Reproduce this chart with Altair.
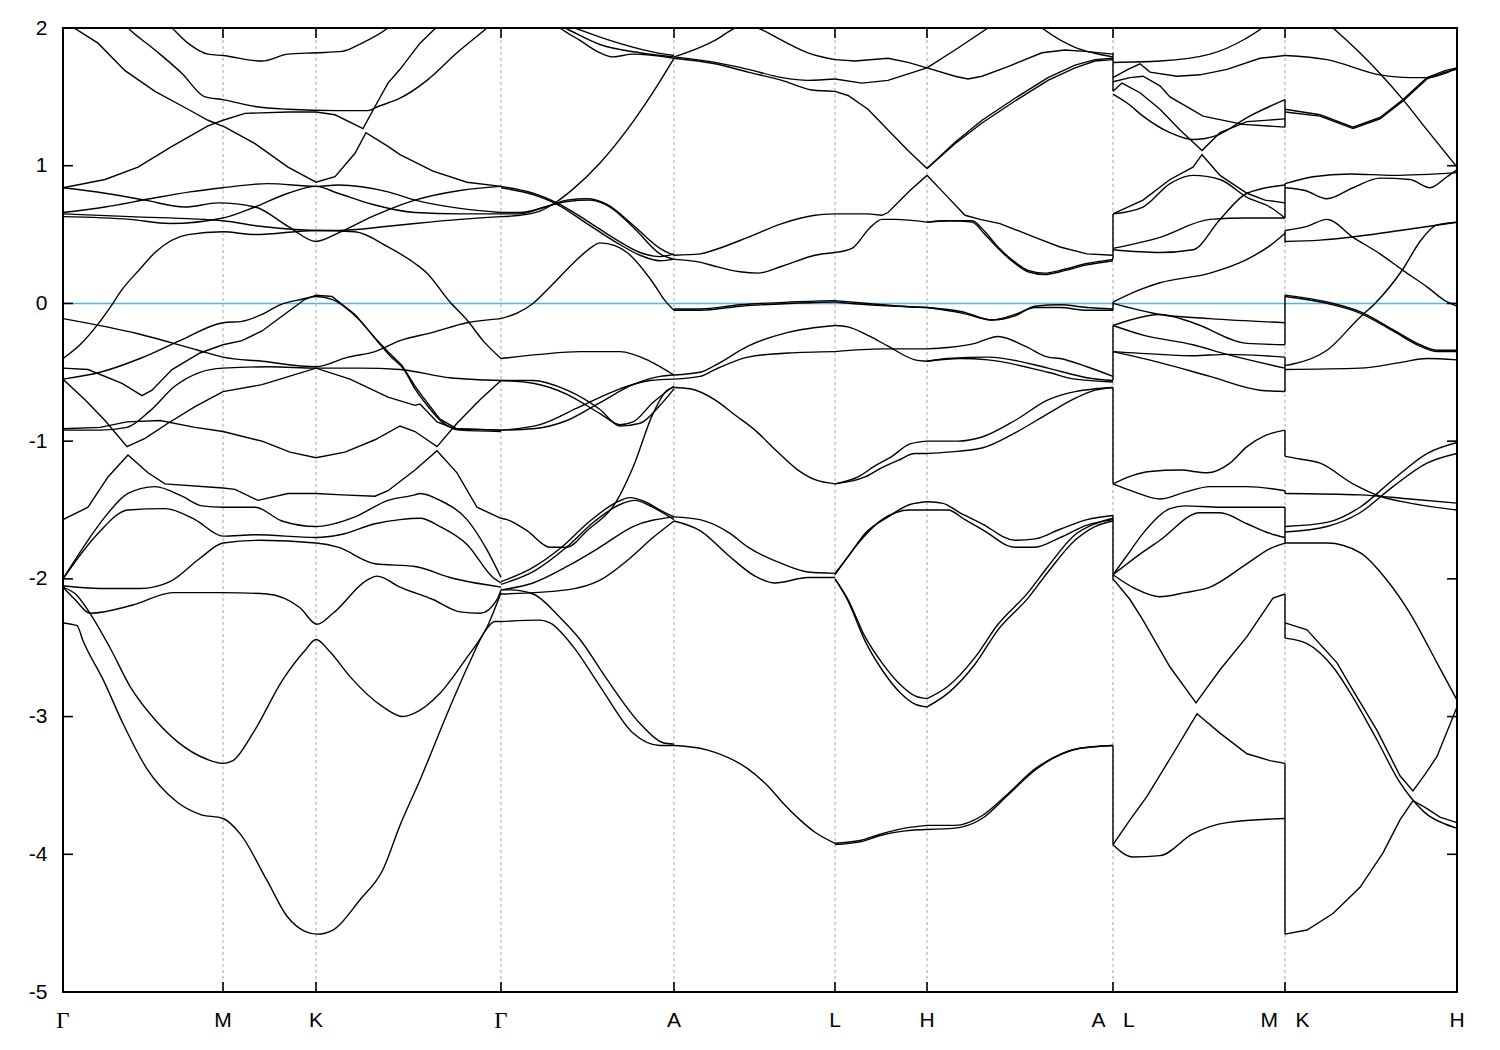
import altair as alt
import pandas as pd

# High-symmetry points along the k-path (path length, arbitrary units)
kpoint_pos = [0, 160, 253, 438, 611, 772, 864, 1050, 1222, 1394]
kpoint_lab = ["Γ", "M", "K", "Γ", "A", "L", "H", "A\u00a0\u00a0\u00a0L", "M\u00a0\u00a0\u00a0K", "H"]
y_ticks = [-5, -4, -3, -2, -1, 0, 1, 2]

# ---- Bands, segment Γ-M-K-Γ : (k, E) ----
seg_gmkg = {
    "a": [(0,2.08),(9,2.01),(35,1.89),(62,1.69),(92,1.54),(125,1.41),(145,1.33),(162,1.28),(192,1.16),(225,0.99),(253,0.88),(272,0.92),(292,1.09),(303,1.24),(325,1.14),(337,1.08),(370,0.96),(404,0.88),(438,0.85)],
    "b": [(0,0.84),(42,0.90),(75,0.99),(109,1.14),(145,1.29),(160,1.33),(182,1.38),(225,1.39),(253,1.39),(272,1.37),(300,1.27),(312,1.43),(325,1.60),(337,1.70),(357,1.89),(377,2.03),(382,2.08)],
    "c": [(57,2.06),(65,2.0),(92,1.84),(119,1.67),(142,1.50),(160,1.48),(192,1.43),(225,1.41),(275,1.40),(305,1.40),(315,1.43),(337,1.49),(364,1.62),(394,1.82),(424,2.0),(432,2.05)],
    "d": [(97,2.08),(109,2.0),(125,1.89),(145,1.81),(160,1.80),(199,1.76),(225,1.81),(253,1.82),(279,1.83),(299,1.89),(325,2.0),(335,2.06)],
    "u1": [(0,0.84),(42,0.80),(82,0.75),(122,0.70),(155,0.73),(192,0.70),(225,0.56),(253,0.45),(275,0.51),(309,0.63),(325,0.68),(352,0.75),(397,0.82),(438,0.85)],
    "u2": [(0,0.66),(42,0.70),(87,0.76),(127,0.81),(160,0.84),(205,0.87),(253,0.85),(275,0.86),(325,0.81),(352,0.75),(397,0.69),(438,0.66)],
    "u3": [(0,0.63),(67,0.61),(107,0.58),(160,0.62),(192,0.70),(225,0.80),(253,0.85),(275,0.80),(309,0.72),(352,0.66),(397,0.65),(438,0.65)],
    "u4": [(0,0.65),(67,0.63),(160,0.60),(197,0.56),(253,0.53),(275,0.53),(325,0.56),(352,0.58),(397,0.61),(438,0.63)],
    "v1": [(0,-0.40),(17,-0.30),(35,-0.15),(47,-0.03),(59,0.10),(77,0.25),(92,0.37),(125,0.50),(160,0.52),(192,0.50),(253,0.53),(292,0.52),(325,0.41),(352,0.29),(364,0.22),(387,0.01),(404,-0.12),(420,-0.27),(438,-0.40)],
    "w1": [(0,-0.11),(75,-0.22),(135,-0.34),(160,-0.39),(199,-0.42),(253,-0.46),(285,-0.39),(312,-0.35),(337,-0.27),(370,-0.21),(404,-0.14),(438,-0.11)],
    "l1": [(0,-0.47),(25,-0.48),(59,-0.58),(79,-0.67),(89,-0.63),(109,-0.48),(137,-0.36),(160,-0.30),(179,-0.27),(199,-0.20),(225,-0.06),(242,0.03),(253,0.06),(269,0.05),(292,-0.08),(312,-0.25),(325,-0.35),(339,-0.45),(352,-0.60),(360,-0.68),(377,-0.84),(394,-0.91),(438,-0.92)],
    "l2": [(0,-0.55),(37,-0.50),(77,-0.40),(117,-0.27),(160,-0.14),(179,-0.13),(199,-0.08),(217,-0.01),(239,0.03),(253,0.05),(269,0.03),(295,-0.11),(315,-0.28),(327,-0.38),(341,-0.48),(352,-0.62),(362,-0.72),(379,-0.86),(397,-0.92),(438,-0.93)],
    "g91": [(0,-0.92),(37,-0.92),(64,-0.90),(87,-0.78),(112,-0.60),(137,-0.50),(160,-0.47),(207,-0.46),(253,-0.47),(297,-0.47),(337,-0.48),(387,-0.54),(438,-0.56)],
    "m92": [(0,-0.91),(37,-0.90),(64,-0.86),(97,-0.85),(132,-0.90),(160,-0.93),(199,-1.00),(227,-1.08),(253,-1.12),(282,-1.08),(312,-0.99),(337,-0.89),(352,-0.93),(374,-1.04),(394,-0.87),(417,-0.70),(438,-0.56)],
    "lv": [(0,-0.55),(22,-0.70),(42,-0.85),(64,-1.04),(82,-0.98),(105,-0.87),(132,-0.75),(160,-0.64),(199,-0.59),(253,-0.47),(287,-0.55),(325,-0.68),(352,-0.74),(357,-0.73),(374,-0.86),(392,-0.91),(438,-0.92)],
    "x": [(0,-1.57),(25,-1.48),(45,-1.26),(65,-1.10),(85,-1.23),(102,-1.31),(160,-1.34),(172,-1.35),(195,-1.43),(225,-1.38),(253,-1.38),(279,-1.39),(312,-1.40),(325,-1.36),(352,-1.21),(374,-1.07),(394,-1.23),(414,-1.48),(438,-1.56)],
    "y3": [(0,-2.0),(25,-1.72),(42,-1.55),(65,-1.38),(92,-1.33),(119,-1.40),(139,-1.47),(160,-1.48),(192,-1.48),(219,-1.58),(253,-1.62),(292,-1.55),(325,-1.43),(352,-1.39),(357,-1.38),(377,-1.43),(404,-1.57),(424,-1.79),(438,-1.99)],
    "y2": [(0,-2.0),(35,-1.67),(65,-1.50),(102,-1.49),(132,-1.57),(160,-1.69),(192,-1.68),(253,-1.70),(277,-1.68),(312,-1.60),(337,-1.57),(357,-1.56),(377,-1.62),(404,-1.75),(430,-1.99),(438,-2.03)],
    "y1": [(0,-2.05),(37,-2.07),(77,-2.07),(107,-2.02),(137,-1.85),(160,-1.74),(197,-1.72),(253,-1.74),(275,-1.77),(312,-1.89),(352,-1.91),(387,-1.99),(438,-2.06)],
    "z2": [(0,-2.06),(12,-2.15),(27,-2.25),(70,-2.19),(110,-2.10),(160,-2.10),(204,-2.11),(237,-2.21),(254,-2.33),(270,-2.25),(304,-2.01),(314,-1.98),(337,-2.06),(370,-2.15),(397,-2.24),(417,-2.25),(434,-2.15),(438,-2.08)],
    "z1": [(0,-2.06),(14,-2.12),(27,-2.25),(47,-2.50),(67,-2.78),(87,-2.98),(114,-3.18),(144,-3.31),(160,-3.34),(170,-3.32),(190,-3.12),(220,-2.73),(242,-2.52),(253,-2.44),(267,-2.53),(287,-2.71),(320,-2.93),(340,-3.0),(350,-2.98),(377,-2.83),(404,-2.57),(424,-2.35),(438,-2.10)],
    "z0": [(0,-2.32),(14,-2.34),(20,-2.45),(40,-2.73),(60,-3.05),(84,-3.38),(114,-3.62),(137,-3.71),(160,-3.74),(177,-3.85),(204,-4.19),(224,-4.45),(242,-4.56),(254,-4.58),(270,-4.55),(297,-4.33),(320,-4.11),(337,-3.79),(357,-3.46),(387,-2.93),(407,-2.60),(422,-2.38),(432,-2.31),(438,-2.31)],
}

# ---- Segment Γ-A ----
seg_ga = {
    "ga1": [(438,0.85),(470,0.80),(494,0.73),(524,0.60),(554,0.46),(577,0.37),(597,0.34),(611,0.36)],
    "ga2": [(438,0.84),(470,0.79),(494,0.72),(524,0.58),(554,0.44),(577,0.35),(597,0.31),(611,0.32)],
    "ga3": [(438,0.66),(457,0.66),(482,0.70),(504,0.75),(524,0.76),(544,0.72),(570,0.57),(597,0.40),(611,0.35)],
    "ga4": [(438,0.65),(457,0.65),(482,0.70),(504,0.74),(527,0.75),(547,0.70),(572,0.54),(597,0.36),(611,0.32)],
    "ga5": [(438,0.63),(457,0.64),(477,0.67),(494,0.74),(510,0.83),(537,1.02),(564,1.26),(587,1.50),(611,1.78)],
    "gat1": [(492,2.03),(497,2.0),(517,1.91),(537,1.82),(550,1.79),(570,1.81),(611,1.78)],
    "gat2": [(487,2.05),(502,2.0),(537,1.88),(577,1.82),(611,1.79)],
    "gat3": [(497,2.04),(512,2.0),(547,1.91),(587,1.83),(611,1.80)],
    "gam1": [(438,-0.11),(454,-0.07),(470,0.0),(487,0.12),(510,0.29),(527,0.40),(537,0.44),(552,0.42),(564,0.37),(590,0.15),(602,0.02),(611,-0.05)],
    "gam2": [(438,-0.40),(477,-0.37),(517,-0.35),(557,-0.35),(587,-0.42),(611,-0.52)],
    "gam3": [(438,-0.56),(470,-0.56),(504,-0.63),(537,-0.77),(557,-0.89),(577,-0.87),(597,-0.74),(611,-0.62)],
    "gam4": [(438,-0.56),(470,-0.58),(504,-0.66),(537,-0.80),(557,-0.88),(570,-0.86),(590,-0.72),(611,-0.60)],
    "gam5": [(438,-0.92),(470,-0.91),(504,-0.85),(537,-0.72),(570,-0.59),(597,-0.53),(611,-0.52)],
    "gam6": [(438,-0.92),(477,-0.88),(517,-0.75),(557,-0.62),(587,-0.56),(611,-0.55)],
    "gal1": [(438,-1.56),(444,-1.57),(464,-1.65),(487,-1.77),(504,-1.77),(524,-1.65),(554,-1.43),(570,-1.19),(590,-0.80),(604,-0.63),(611,-0.61)],
    "gal2": [(438,-2.02),(467,-1.93),(497,-1.78),(527,-1.58),(552,-1.45),(567,-1.41),(582,-1.44),(597,-1.50),(611,-1.55)],
    "gal3": [(438,-2.04),(472,-1.94),(502,-1.78),(532,-1.58),(557,-1.46),(572,-1.43),(587,-1.47),(611,-1.57)],
    "gal4": [(438,-2.08),(470,-2.03),(504,-1.91),(537,-1.77),(570,-1.62),(611,-1.55)],
    "gal5": [(438,-2.11),(504,-2.08),(537,-2.01),(567,-1.85),(590,-1.70),(611,-1.58)],
    "gab1": [(438,-2.31),(477,-2.30),(487,-2.32),(510,-2.49),(537,-2.78),(570,-3.12),(597,-3.21),(611,-3.21)],
    "gab2": [(438,-2.08),(447,-2.08),(470,-2.11),(497,-2.28),(517,-2.44),(544,-2.73),(577,-3.05),(600,-3.19),(611,-3.20)],
}

# ---- Segment A-L ----
seg_al = {
    "al1": [(611,1.79),(637,1.86),(652,1.91),(672,2.0),(684,2.03),(695,2.0),(719,1.91),(745,1.82),(772,1.77)],
    "al3": [(611,1.79),(652,1.75),(685,1.70),(719,1.64),(745,1.62),(772,1.63)],
    "al4": [(611,1.78),(652,1.74),(685,1.68),(719,1.62),(749,1.55),(772,1.54)],
    "al5": [(611,0.35),(637,0.36),(652,0.39),(685,0.48),(719,0.58),(752,0.64),(772,0.65)],
    "al6": [(611,0.32),(637,0.30),(652,0.27),(677,0.23),(695,0.22),(719,0.27),(752,0.35),(772,0.37)],
    "al7": [(611,-0.04),(637,-0.04),(677,-0.01),(727,0.01),(772,0.02)],
    "al7b": [(611,-0.05),(637,-0.05),(677,-0.02),(727,0.0),(772,0.01)],
    "al8": [(611,-0.52),(637,-0.50),(652,-0.45),(685,-0.31),(725,-0.21),(772,-0.16)],
    "al9": [(611,-0.55),(637,-0.53),(652,-0.48),(685,-0.39),(725,-0.36),(772,-0.35)],
    "al10": [(611,-0.61),(627,-0.62),(652,-0.70),(672,-0.81),(692,-0.92),(712,-1.06),(735,-1.21),(752,-1.28),(772,-1.31)],
    "al11": [(611,-1.55),(637,-1.57),(667,-1.67),(685,-1.77),(719,-1.89),(745,-1.95),(772,-1.96)],
    "al12": [(611,-1.58),(637,-1.65),(667,-1.84),(692,-1.98),(712,-2.03),(745,-1.99),(772,-1.99)],
    "al13": [(611,-3.21),(637,-3.23),(652,-3.26),(685,-3.38),(707,-3.52),(719,-3.62),(737,-3.75),(752,-3.84),(772,-3.92)],
}

# ---- Segment L-H ----
seg_lh = {
    "lh1": [(772,1.77),(792,1.76),(825,1.78),(845,1.75),(864,1.71)],
    "lh2": [(772,1.63),(799,1.60),(825,1.62),(864,1.71)],
    "lh3": [(772,1.54),(785,1.51),(805,1.41),(825,1.26),(845,1.11),(864,0.98)],
    "lh4": [(772,0.65),(805,0.65),(819,0.64),(825,0.66),(847,0.82),(864,0.93)],
    "lh5": [(772,0.37),(789,0.40),(807,0.55),(819,0.61),(832,0.61),(864,0.59)],
    "lh6": [(772,0.02),(805,0.0),(837,-0.02),(864,-0.03)],
    "lh6b": [(772,0.01),(805,-0.01),(837,-0.02),(864,-0.03)],
    "lh7": [(772,-0.16),(785,-0.17),(807,-0.24),(825,-0.31),(852,-0.41),(864,-0.42)],
    "lh8": [(772,-0.35),(819,-0.33),(864,-0.33)],
    "lh9a": [(772,-1.31),(795,-1.26),(812,-1.18),(829,-1.11),(847,-1.02),(864,-1.00)],
    "lh9b": [(772,-1.31),(802,-1.26),(817,-1.20),(835,-1.14),(852,-1.09),(864,-1.09)],
    "lh10a": [(772,-1.96),(785,-1.84),(802,-1.67),(825,-1.55),(847,-1.46),(864,-1.44)],
    "lh10b": [(772,-1.97),(792,-1.77),(819,-1.57),(847,-1.50),(864,-1.50)],
    "lh11a": [(772,-2.00),(785,-2.15),(802,-2.42),(819,-2.61),(839,-2.78),(852,-2.85),(864,-2.87)],
    "lh11b": [(772,-2.00),(785,-2.16),(802,-2.45),(819,-2.66),(839,-2.84),(852,-2.91),(864,-2.93)],
    "lh12a": [(772,-3.92),(797,-3.90),(819,-3.85),(842,-3.81),(864,-3.79)],
    "lh12b": [(772,-3.93),(797,-3.91),(819,-3.86),(842,-3.83),(864,-3.82)],
}

# ---- Segment H-A ----
seg_ha = {
    "ha1": [(864,1.71),(892,1.65),(905,1.63),(919,1.65),(945,1.72),(979,1.82),(1002,1.84),(1022,1.83),(1050,1.81)],
    "ha2": [(864,1.71),(892,1.84),(925,2.0),(937,2.08)],
    "ha0": [(967,2.07),(979,2.0),(1012,1.86),(1030,1.82),(1050,1.79)],
    "ha3a": [(864,0.98),(892,1.17),(919,1.33),(952,1.49),(985,1.64),(1012,1.73),(1032,1.77),(1050,1.78)],
    "ha3b": [(864,0.98),(892,1.16),(919,1.31),(952,1.47),(985,1.62),(1012,1.71),(1032,1.76),(1050,1.77)],
    "ha4": [(864,0.93),(885,0.77),(902,0.64),(917,0.61),(937,0.58),(972,0.48),(997,0.41),(1024,0.36),(1050,0.35)],
    "ha5a": [(864,0.59),(887,0.60),(909,0.60),(922,0.52),(935,0.41),(952,0.30),(965,0.24),(982,0.22),(997,0.24),(1024,0.29),(1050,0.32)],
    "ha5b": [(864,0.59),(887,0.60),(909,0.59),(922,0.50),(935,0.40),(952,0.29),(965,0.23),(982,0.21),(997,0.23),(1024,0.28),(1050,0.31)],
    "ha6a": [(864,-0.03),(899,-0.06),(929,-0.12),(952,-0.09),(972,-0.02),(997,-0.01),(1024,-0.03),(1050,-0.04)],
    "ha6b": [(864,-0.03),(899,-0.07),(929,-0.12),(952,-0.08),(972,-0.03),(997,-0.03),(1024,-0.05),(1050,-0.05)],
    "ha7a": [(864,-0.33),(885,-0.32),(912,-0.29),(935,-0.24),(962,-0.31),(985,-0.39),(997,-0.40),(1024,-0.46),(1050,-0.53)],
    "ha7b": [(864,-0.42),(885,-0.40),(925,-0.39),(985,-0.47),(1012,-0.52),(1024,-0.54),(1050,-0.56)],
    "ha7c": [(864,-0.42),(897,-0.40),(925,-0.41),(985,-0.50),(1012,-0.55),(1050,-0.57)],
    "ha8a": [(864,-1.00),(895,-1.00),(919,-0.97),(952,-0.85),(985,-0.70),(1012,-0.64),(1032,-0.62),(1050,-0.61)],
    "ha8b": [(864,-1.09),(885,-1.08),(919,-1.05),(952,-0.94),(985,-0.80),(1012,-0.69),(1032,-0.63),(1050,-0.61)],
    "ha9a": [(864,-1.44),(879,-1.45),(897,-1.52),(919,-1.60),(952,-1.72),(972,-1.71),(997,-1.64),(1024,-1.57),(1050,-1.54)],
    "ha9b": [(864,-1.50),(885,-1.50),(902,-1.57),(919,-1.64),(952,-1.77),(972,-1.77),(997,-1.70),(1024,-1.61),(1050,-1.57)],
    "ha10a": [(864,-2.87),(885,-2.78),(912,-2.57),(935,-2.33),(965,-2.10),(985,-1.91),(1012,-1.68),(1032,-1.60),(1050,-1.56)],
    "ha10b": [(864,-2.93),(885,-2.83),(912,-2.62),(935,-2.37),(965,-2.14),(985,-1.95),(1012,-1.72),(1032,-1.62),(1050,-1.58)],
    "ha11a": [(864,-3.79),(892,-3.79),(919,-3.72),(945,-3.56),(972,-3.38),(999,-3.27),(1017,-3.23),(1050,-3.21)],
    "ha11b": [(864,-3.82),(892,-3.81),(919,-3.74),(945,-3.57),(972,-3.39),(999,-3.27),(1017,-3.23),(1050,-3.21)],
}

# ---- Segment L-M ----
seg_lm = {
    "lm1": [(1050,1.75),(1097,1.76),(1147,1.81),(1182,1.92),(1199,2.0),(1207,2.05)],
    "lm2": [(1050,1.64),(1065,1.70),(1077,1.74),(1087,1.68),(1114,1.65),(1137,1.66),(1164,1.70),(1197,1.78),(1222,1.80)],
    "lm3": [(1050,1.61),(1067,1.64),(1080,1.65),(1097,1.58),(1107,1.50),(1140,1.36),(1180,1.30),(1222,1.28)],
    "lm4": [(1050,1.54),(1059,1.60),(1077,1.53),(1097,1.41),(1117,1.26),(1139,1.11),(1157,1.24),(1184,1.32),(1222,1.34)],
    "lm5": [(1050,1.52),(1065,1.45),(1080,1.36),(1107,1.24),(1130,1.19),(1154,1.22),(1184,1.35),(1222,1.48)],
    "lm6": [(1050,0.65),(1080,0.75),(1107,0.90),(1130,0.99),(1139,1.08),(1157,0.93),(1184,0.80),(1202,0.75),(1222,0.73)],
    "lm7": [(1050,0.65),(1080,0.70),(1107,0.87),(1130,0.93),(1157,0.90),(1184,0.77),(1207,0.70),(1222,0.62)],
    "lm8": [(1050,0.39),(1097,0.37),(1130,0.39),(1157,0.61),(1184,0.80),(1222,0.86)],
    "lm9": [(1050,0.40),(1097,0.48),(1147,0.61),(1184,0.62),(1222,0.62)],
    "lm10": [(1050,0.01),(1077,0.10),(1097,0.15),(1147,0.22),(1184,0.32),(1207,0.42),(1222,0.51)],
    "lm11": [(1050,0.0),(1097,-0.08),(1147,-0.11),(1222,-0.14)],
    "lm12": [(1050,-0.16),(1067,-0.12),(1097,-0.08),(1130,-0.14),(1184,-0.29),(1222,-0.30)],
    "lm13": [(1050,-0.16),(1080,-0.23),(1130,-0.30),(1164,-0.37),(1222,-0.47)],
    "lm14": [(1050,-0.35),(1097,-0.37),(1130,-0.38),(1164,-0.37),(1222,-0.39)],
    "lm15": [(1050,-0.35),(1097,-0.43),(1147,-0.53),(1197,-0.63),(1222,-0.64)],
    "lm16": [(1050,-1.31),(1087,-1.22),(1117,-1.21),(1144,-1.23),(1167,-1.16),(1184,-1.04),(1202,-0.96),(1222,-0.92)],
    "lm17": [(1050,-1.31),(1072,-1.37),(1097,-1.42),(1122,-1.37),(1147,-1.33),(1184,-1.33),(1222,-1.36)],
    "lm18": [(1050,-1.97),(1067,-1.80),(1080,-1.67),(1107,-1.49),(1122,-1.47),(1157,-1.48),(1222,-1.48)],
    "lm19": [(1050,-1.97),(1077,-1.82),(1097,-1.72),(1137,-1.52),(1157,-1.52),(1184,-1.60),(1207,-1.67),(1222,-1.70)],
    "lm20": [(1050,-1.97),(1072,-2.07),(1097,-2.13),(1122,-2.10),(1147,-2.06),(1184,-1.89),(1207,-1.78),(1222,-1.74)],
    "lm21": [(1050,-2.00),(1067,-2.15),(1080,-2.30),(1107,-2.64),(1133,-2.90),(1157,-2.66),(1184,-2.42),(1210,-2.14),(1222,-2.11)],
    "lm22": [(1050,-3.93),(1067,-3.75),(1084,-3.58),(1110,-3.27),(1134,-2.98),(1157,-3.12),(1184,-3.27),(1207,-3.32),(1222,-3.34)],
    "lm23": [(1050,-3.93),(1070,-4.02),(1097,-4.01),(1130,-3.85),(1164,-3.77),(1222,-3.74)],
}

# ---- Segment K-H ----
seg_kh = {
    "kh1": [(1222,1.80),(1264,1.77),(1317,1.66),(1347,1.64),(1364,1.64),(1382,1.67),(1394,1.71)],
    "kh2": [(1262,2.05),(1270,2.0),(1317,1.67),(1340,1.48),(1364,1.26),(1394,0.99)],
    "kh3a": [(1222,1.41),(1257,1.37),(1290,1.28),(1317,1.35),(1340,1.48),(1364,1.64),(1382,1.69),(1394,1.71)],
    "kh3b": [(1222,1.39),(1257,1.36),(1290,1.27),(1317,1.34),(1340,1.47),(1364,1.63),(1382,1.68),(1394,1.70)],
    "kh4": [(1222,0.87),(1250,0.92),(1287,0.94),(1330,0.93),(1394,0.95)],
    "kh5": [(1222,0.84),(1242,0.82),(1264,0.76),(1290,0.84),(1317,0.91),(1347,0.90),(1367,0.84),(1384,0.92),(1394,0.97)],
    "kh6": [(1222,0.53),(1244,0.56),(1264,0.61),(1290,0.48),(1317,0.36),(1340,0.24),(1364,0.12),(1382,0.02),(1394,-0.02)],
    "kh7": [(1222,0.45),(1257,0.46),(1297,0.49),(1337,0.53),(1394,0.59)],
    "kh8": [(1222,-0.45),(1230,-0.44),(1264,-0.34),(1297,-0.10),(1312,0.0),(1340,0.25),(1357,0.45),(1374,0.57),(1394,0.59)],
    "kh9a": [(1222,0.06),(1264,0.01),(1297,-0.06),(1330,-0.19),(1357,-0.30),(1374,-0.34),(1394,-0.34)],
    "kh9b": [(1222,0.05),(1264,0.0),(1297,-0.07),(1330,-0.20),(1357,-0.31),(1374,-0.35),(1394,-0.35)],
    "kh10": [(1222,-0.48),(1297,-0.47),(1337,-0.43),(1364,-0.40),(1394,-0.41)],
    "kh11": [(1222,-1.11),(1237,-1.13),(1257,-1.16),(1290,-1.31),(1317,-1.40),(1347,-1.45),(1394,-1.50)],
    "kh12": [(1222,-1.38),(1297,-1.39),(1347,-1.42),(1394,-1.45)],
    "kh13a": [(1222,-1.62),(1264,-1.59),(1297,-1.48),(1330,-1.28),(1364,-1.09),(1394,-1.01)],
    "kh13b": [(1222,-1.66),(1264,-1.62),(1297,-1.52),(1330,-1.33),(1364,-1.16),(1394,-1.09)],
    "kh14": [(1222,-1.74),(1264,-1.74),(1297,-1.81),(1324,-2.01),(1347,-2.25),(1374,-2.61),(1394,-2.88)],
    "kh15a": [(1222,-2.32),(1244,-2.37),(1274,-2.61),(1290,-2.81),(1314,-3.10),(1337,-3.43),(1350,-3.54),(1362,-3.42),(1374,-3.29),(1394,-2.93)],
    "kh15b": [(1222,-2.43),(1244,-2.47),(1270,-2.64),(1290,-2.86),(1314,-3.17),(1337,-3.48),(1347,-3.58),(1364,-3.71),(1382,-3.78),(1394,-3.81)],
    "kh16": [(1222,-4.58),(1244,-4.55),(1270,-4.43),(1297,-4.24),(1320,-3.99),(1337,-3.75),(1350,-3.61),(1362,-3.66),(1377,-3.73),(1394,-3.77)],
}

# bands whose extrema are sharp cusps (drawn without smoothing)
sharp_bands = {"gmkg_a", "gmkg_b", "gmkg_lv", "gmkg_l1", "gmkg_m92", "gmkg_x",
               "lm4", "lm6", "lm21", "lm22", "kh15a", "kh16", "lh3", "lh4", "ha3a", "ha3b", "ha4",
               "lm2", "lm3", "kh3a", "kh3b", "lh1", "lh2", "ha1", "ha2"}

# Vertical connections at the path discontinuities (A|L and M|K)
jump_AL = [(1.82, 1.54), (0.65, 0.32), (0.01, -0.05), (-0.16, -0.56), (-0.61, -1.31), (-1.54, -2.01), (-3.21, -3.93)]
jump_MK = [(1.48, 1.28), (0.87, 0.62), (0.53, 0.44), (0.06, -0.30), (-0.39, -0.64), (-0.92, -1.11),
           (-1.36, -1.38), (-1.48, -1.74), (-2.11, -2.43), (-3.34, -4.58)]

# ---------------- build tables ----------------
rows = []
for seg_name, seg in [("gmkg", seg_gmkg), ("ga", seg_ga), ("al", seg_al), ("lh", seg_lh),
                      ("ha", seg_ha), ("lm", seg_lm), ("kh", seg_kh)]:
    for name, pts in seg.items():
        bid = f"{seg_name}_{name}" if seg_name == "gmkg" else name
        for i, (k, e) in enumerate(pts):
            rows.append({"band": bid, "i": i, "k": k, "E": e, "sharp": bid in sharp_bands})
bands_df = pd.DataFrame(rows)
smooth_df = bands_df[~bands_df["sharp"]]
sharp_df = bands_df[bands_df["sharp"]]

jump_rows = [{"k": kpoint_pos[7], "E1": a, "E2": b} for a, b in jump_AL] + \
            [{"k": kpoint_pos[8], "E1": a, "E2": b} for a, b in jump_MK]
jumps_df = pd.DataFrame(jump_rows)

kp_df = pd.DataFrame({"k": kpoint_pos, "lab": kpoint_lab})
grid_df = kp_df.iloc[1:-1]
ytick_df = pd.DataFrame({"E": y_ticks})

W, H = 1394, 964
xs = alt.Scale(domain=[0, 1394], nice=False, zero=False)
ys = alt.Scale(domain=[-5, 2], nice=False, zero=False)

grid = alt.Chart(grid_df).mark_rule(color="#a8a8a8", strokeDash=[3, 3], strokeWidth=1).encode(
    x=alt.X("k:Q", scale=xs, axis=None)
)

zero = alt.Chart(pd.DataFrame({"E": [0]})).mark_rule(color="#56B4E9", strokeWidth=1.6).encode(
    y=alt.Y("E:Q", scale=ys)
)

yaxis = alt.Axis(values=y_ticks, labelExpr="'' + datum.value", ticks=False, tickSize=0,
                 domain=False, grid=False, labelFont="Liberation Sans", labelFontSize=21,
                 labelColor="black", labelPadding=16)

lines_smooth = alt.Chart(smooth_df).mark_line(color="black", strokeWidth=1.4, clip=True,
                                              interpolate="monotone").encode(
    x=alt.X("k:Q", scale=xs, axis=None),
    y=alt.Y("E:Q", scale=ys, title=None, axis=yaxis),
    detail="band:N",
    order="i:Q",
)
lines_sharp = alt.Chart(sharp_df).mark_line(color="black", strokeWidth=1.4, clip=True,
                                            interpolate="linear").encode(
    x=alt.X("k:Q", scale=xs, axis=None),
    y=alt.Y("E:Q", scale=ys, title=None),
    detail="band:N",
    order="i:Q",
)

jumps = alt.Chart(jumps_df).mark_rule(color="black", strokeWidth=1.4).encode(
    x=alt.X("k:Q", scale=xs), y=alt.Y("E1:Q", scale=ys), y2="E2:Q"
)

tick_l = alt.Chart(ytick_df).mark_rule(color="black", strokeWidth=1.6).encode(
    y=alt.Y("E:Q", scale=ys), x=alt.value(0), x2=alt.value(10))
tick_r = alt.Chart(ytick_df).mark_rule(color="black", strokeWidth=1.6).encode(
    y=alt.Y("E:Q", scale=ys), x=alt.value(W - 10), x2=alt.value(W))
tick_b = alt.Chart(kp_df).mark_rule(color="black", strokeWidth=1.6).encode(
    x=alt.X("k:Q", scale=xs), y=alt.value(H), y2=alt.value(H - 10))
tick_t = alt.Chart(kp_df).mark_rule(color="black", strokeWidth=1.6).encode(
    x=alt.X("k:Q", scale=xs), y=alt.value(0), y2=alt.value(10))

lab_sans = alt.Chart(kp_df[kp_df["lab"] != "Γ"]).mark_text(
    font="Liberation Sans", fontSize=21, color="black", baseline="middle", dy=29
).encode(x=alt.X("k:Q", scale=xs), y=alt.datum(-5), text="lab:N")
lab_gamma = alt.Chart(kp_df[kp_df["lab"] == "Γ"]).mark_text(
    font="Liberation Serif", fontSize=23, color="black", baseline="middle", dy=29
).encode(x=alt.X("k:Q", scale=xs), y=alt.datum(-5), text="lab:N")

chart = alt.layer(grid, zero, lines_smooth, lines_sharp, jumps, tick_l, tick_r, tick_b, tick_t,
                  lab_sans, lab_gamma).properties(
    width=W, height=H,
    background="white",
    autosize=alt.AutoSizeParams(type="none"),
    padding={"left": 55, "top": 20, "right": 25, "bottom": 45},
).configure_view(stroke="black", strokeWidth=2)

chart.save("out.html", embed_options={"renderer": "svg", "actions": False})
